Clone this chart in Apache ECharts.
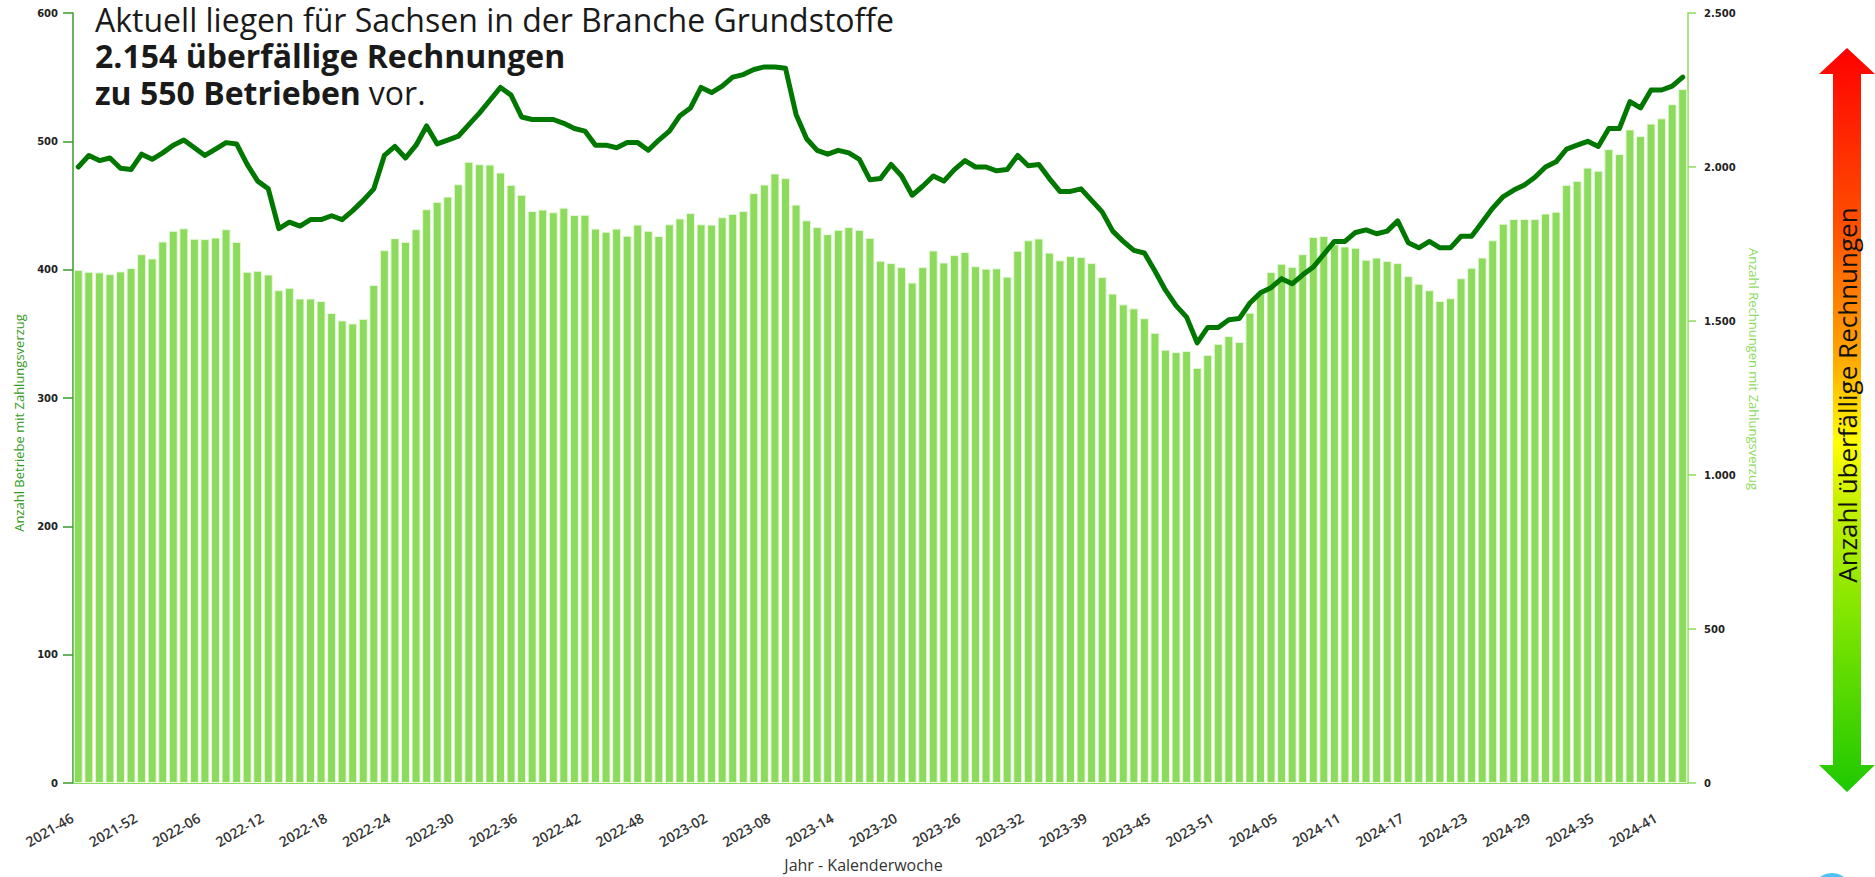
<!DOCTYPE html>
<html>
<head>
<meta charset="utf-8">
<script src="https://cdn.jsdelivr.net/npm/echarts@6/dist/echarts.min.js"></script>
<style>
  html, body { margin: 0; padding: 0; background: #fff; }
  #chart { width: 1875px; height: 877px; }
</style>
</head>
<body>
<div id="chart"></div>
<script>
// Kalenderwochen 2021-46 .. 2024-43 (eine Woche fehlt in 2023)
const weekRanges = [[2021, 46, 52], [2022, 1, 52], [2023, 1, 52], [2024, 1, 43]]
const skippedWeeks = ['2023-35']
const categories = []
weekRanges.forEach(([year, from, to]) => {
  for (let w = from; w <= to; w++) {
    const label = year + '-' + String(w).padStart(2, '0')
    if (!skippedWeeks.includes(label)) categories.push(label)
  }
})

// Anzahl Rechnungen mit Zahlungsverzug (rechte Achse)
const rechnungen = [
  1666, 1660, 1658, 1652, 1661, 1672, 1717, 1703, 1758, 1793, 1801, 1767, 1766, 1771, 1798, 1757,
  1660, 1663, 1651, 1600, 1608, 1573, 1573, 1565, 1526, 1502, 1492, 1507, 1617, 1730, 1769, 1757,
  1798, 1863, 1887, 1904, 1944, 2017, 2009, 2008, 1982, 1942, 1910, 1857, 1862, 1853, 1868,
  1844, 1845, 1800, 1790, 1800, 1777, 1813, 1793, 1776, 1814, 1833, 1851, 1814, 1813, 1837, 1848,
  1857, 1915, 1943, 1979, 1964, 1878, 1827, 1805, 1782, 1796, 1805, 1796, 1770, 1696, 1688, 1675,
  1625, 1675, 1729, 1690, 1714, 1724, 1678, 1670, 1671, 1644, 1728, 1762, 1768,
  1722, 1697, 1711, 1708, 1688, 1643, 1589, 1554, 1541, 1509, 1462, 1407, 1399, 1403, 1348, 1390,
  1426, 1451, 1432, 1527, 1589, 1659, 1686, 1676, 1717, 1773, 1776, 1749, 1742, 1738, 1699, 1706,
  1695, 1688, 1646, 1621, 1600, 1565, 1574, 1639, 1673, 1706, 1762, 1816, 1831, 1831, 1831, 1849,
  1855, 1942, 1955, 1998, 1988,
  2058, 2042, 2122, 2101, 2141, 2158, 2204, 2253
]

// Anzahl Betriebe mit Zahlungsverzug (linke Achse)
const betriebe = [
  480, 489, 485, 487, 479, 478, 490, 486, 491, 497, 501, 495, 489, 494, 499, 498,
  482, 469, 463, 432, 437, 434, 439, 439, 442, 439, 446, 454, 463, 489, 496, 487,
  497, 512, 498, 501, 504, 513, 522, 532, 542, 536, 519, 517,
  517, 517, 514, 510, 508, 497, 497, 495, 499, 499, 493, 501, 508, 520, 526, 542,
  538, 543, 550, 552, 556, 558, 558, 557, 521, 502, 493, 490, 493, 491, 486, 470,
  471, 482, 473, 458, 465, 473, 469, 478, 485, 480, 480, 477, 478, 489, 481, 482,
  471, 461, 461, 463, 454, 445, 430, 422, 415, 413, 399, 384, 372, 363, 343, 355,
  355, 361, 362, 374, 382, 386, 393, 389, 396, 402, 412, 422, 422, 429, 431, 428,
  430, 438, 421, 417, 422, 417, 417, 426, 426, 437, 448, 457, 462, 466, 472, 480,
  484, 494, 497, 500, 496, 510, 510, 531, 526, 540, 540, 543, 550
]

const leftTicks = { min: 0, max: 600, interval: 100 }
const rightTicks = { min: 0, max: 2500, interval: 500 }

const chart = echarts.init(document.getElementById('chart'), null, { renderer: 'svg' })

const dotThousands = v => String(v).replace(/\B(?=(\d{3})+(?!\d))/g, '.')

// Breite des fetten Teils der dritten Titelzeile messen
const ctx = document.createElement('canvas').getContext('2d')
ctx.font = 'bold 32px "Open Sans"'
const boldWidth = ctx.measureText('zu 550 Betrieben').width

const titleX = 95

chart.setOption({
  animation: false,
  backgroundColor: '#fff',
  grid: { left: 73, right: 187, top: 13, bottom: 94, outerBoundsMode: 'none', containLabel: false },
  xAxis: [
    {
      type: 'category',
      data: categories,
      boundaryGap: true,
      axisLine: { lineStyle: { color: '#8cdb5c', width: 1 } },
      axisTick: { alignWithLabel: true, interval: 0, length: 6, lineStyle: { color: '#333' } },
      axisLabel: {
        interval: 5, rotate: 30, margin: 30, padding: [0, 7, 0, 0],
        fontFamily: 'Open Sans', fontSize: 14, fontWeight: 600, color: '#333'
      },
      name: 'Jahr - Kalenderwoche',
      nameLocation: 'middle',
      nameGap: 74,
      nameTextStyle: { fontFamily: 'Open Sans', fontSize: 16, color: '#333', padding: [0, 34, 0, 0] }
    },
    {
      type: 'category',
      data: categories,
      position: 'bottom',
      axisLine: { show: false },
      axisTick: { alignWithLabel: true, interval: 5, length: 11, lineStyle: { color: '#333' } },
      axisLabel: { show: false }
    }
  ],
  yAxis: [
    {
      type: 'value',
      position: 'left',
      ...leftTicks,
      axisLine: { show: true, lineStyle: { color: '#3a9a2a', width: 1.5 } },
      axisTick: { show: true, length: 10, lineStyle: { color: '#3a9a2a', width: 1.5 } },
      axisLabel: { margin: 15, fontFamily: 'DejaVu Sans', fontWeight: 'bold', fontSize: 10, color: '#222' },
      splitLine: { show: false }
    },
    {
      type: 'value',
      position: 'right',
      ...rightTicks,
      axisLine: { show: true, lineStyle: { color: '#8cdb5c', width: 1.5 } },
      axisTick: { show: true, length: 8, lineStyle: { color: '#8cdb5c', width: 1.5 } },
      axisLabel: {
        margin: 16, fontFamily: 'DejaVu Sans', fontWeight: 'bold', fontSize: 10, color: '#222',
        formatter: dotThousands
      },
      splitLine: { show: false }
    }
  ],
  series: [
    {
      name: 'Betriebe',
      type: 'line',
      yAxisIndex: 0,
      data: betriebe,
      symbol: 'none',
      lineStyle: { color: '#007800', width: 5, cap: 'round', join: 'round' }
    },
    {
      name: 'Rechnungen',
      type: 'bar',
      yAxisIndex: 1,
      data: rechnungen,
      barWidth: 9,
      itemStyle: { color: '#8cdb5c', borderColor: '#eaf8e0', borderWidth: 1 }
    }
  ],
  graphic: [
    {
      type: 'text', x: titleX, y: 19,
      style: {
        text: 'Aktuell liegen für Sachsen in der Branche Grundstoffe',
        fontFamily: 'Open Sans', fontSize: 32, fill: '#1a1a1a', verticalAlign: 'middle'
      }
    },
    {
      type: 'text', x: titleX, y: 55.5,
      style: {
        text: '2.154 überfällige Rechnungen',
        fontFamily: 'Open Sans', fontSize: 32, fontWeight: 'bold', fill: '#1a1a1a', verticalAlign: 'middle'
      }
    },
    {
      type: 'text', x: titleX, y: 92,
      style: {
        text: 'zu 550 Betrieben',
        fontFamily: 'Open Sans', fontSize: 32, fontWeight: 'bold', fill: '#1a1a1a', verticalAlign: 'middle'
      }
    },
    {
      type: 'text', x: titleX + boldWidth + 8, y: 92,
      style: {
        text: 'vor.',
        fontFamily: 'Open Sans', fontSize: 32, fill: '#1a1a1a', verticalAlign: 'middle'
      }
    },
    {
      type: 'text',
      x: 19, y: 423, rotation: Math.PI / 2,
      style: {
        text: 'Anzahl Betriebe mit Zahlungsverzug',
        fontFamily: 'Open Sans', fontSize: 13, fill: '#339a22',
        align: 'center', verticalAlign: 'middle'
      }
    },
    {
      type: 'text',
      x: 1754, y: 369, rotation: -Math.PI / 2,
      style: {
        text: 'Anzahl Rechnungen mit Zahlungsverzug',
        fontFamily: 'Open Sans', fontSize: 13, fill: '#8cdb5c',
        align: 'center', verticalAlign: 'middle'
      }
    },
    {
      type: 'polygon',
      shape: {
        points: [[1847, 48], [1875, 74], [1861, 74], [1861, 765], [1875, 765], [1847, 792],
                 [1819, 765], [1833, 765], [1833, 74], [1819, 74]]
      },
      style: {
        fill: new echarts.graphic.LinearGradient(0, 0, 0, 1, [
          { offset: 0, color: '#ff0000' },
          { offset: 0.24, color: '#ff5000' },
          { offset: 0.42, color: '#ffaa00' },
          { offset: 0.53, color: '#ffff00' },
          { offset: 0.61, color: '#c8f000' },
          { offset: 0.76, color: '#82e600' },
          { offset: 1, color: '#1ec800' }
        ])
      }
    },
    {
      type: 'text',
      x: 1847, y: 395, rotation: Math.PI / 2,
      style: {
        text: 'Anzahl überfällige Rechnungen',
        fontFamily: 'Open Sans', fontSize: 26, fill: '#111',
        align: 'center', verticalAlign: 'middle'
      }
    },
    {
      type: 'circle',
      shape: { cx: 1832, cy: 893, r: 20 },
      style: { fill: '#4fc3f7' }
    }
  ]
})
</script>
</body>
</html>
